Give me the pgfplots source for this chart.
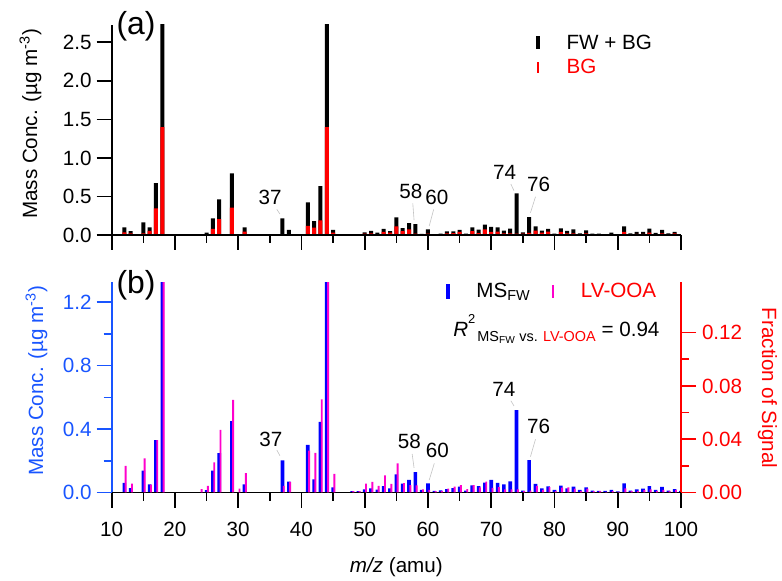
\documentclass[border=0pt]{standalone}
\usepackage{fontspec}
\setmainfont{Liberation Sans}
\usepackage{amsmath}
\usepackage{xcolor}
\usepackage{pgfplots}
\pgfplotsset{compat=1.18}
\usepackage{pgfplotstable}

\definecolor{axblue}{RGB}{25,85,255}
\definecolor{barblue}{RGB}{0,0,255}
\definecolor{lvpink}{RGB}{255,0,204}
\definecolor{leadgray}{RGB}{195,195,195}
\newcommand\fs{\fontsize{20.7}{24.8}\selectfont}
\newcommand\fsbig{\fontsize{32}{38}\selectfont}

% m/z, FW+BG, BG, MS_FW (ug/m3), LV-OOA (fraction of signal)
\pgfplotstableread{
mz  total  bg     fw     lv
12  0.100  0.035  0.060  0.0199
13  0.050  0.020  0.028  0.0066
15  0.165  0.020  0.138  0.0257
16  0.100  0.055  0.051  0.0060
17  0.673  0.345  0.331  0.0394
18  2.950  1.400  1.550  0.1750
24  0.000  0.000  0.000  0.0026
25  0.030  0.010  0.015  0.0050
26  0.216  0.078  0.138  0.0227
27  0.462  0.207  0.249  0.0470
29  0.800  0.354  0.451  0.0695
30  0.000  0.000  0.000  0.0030
31  0.100  0.043  0.051  0.0146
37  0.216  0.010  0.203  0.0050
38  0.065  0.003  0.068  0.0080
41  0.423  0.117  0.300  0.0314
42  0.180  0.095  0.083  0.0297
43  0.635  0.190  0.445  0.0700
44  2.950  1.400  1.550  0.1900
45  0.065  0.030  0.033  0.0139
48  0.010  0.002  0.008  0.0010
49  0.010  0.002  0.008  0.0010
50  0.035  0.017  0.020  0.0066
51  0.052  0.020  0.026  0.0079
52  0.030  0.012  0.018  0.0049
53  0.078  0.040  0.041  0.0129
54  0.050  0.030  0.026  0.0064
55  0.229  0.112  0.115  0.0219
56  0.090  0.050  0.056  0.0071
57  0.155  0.073  0.079  0.0056
58  0.142  0.017  0.129  0.0054
59  0.013  0.003  0.016  0.0024
60  0.073  0.017  0.058  0.0019
61  0.010  0.002  0.010  0.0010
62  0.017  0.005  0.014  0.0010
63  0.047  0.020  0.022  0.0030
64  0.047  0.025  0.028  0.0044
65  0.065  0.040  0.037  0.0056
66  0.017  0.008  0.012  0.0026
67  0.100  0.050  0.045  0.0056
68  0.070  0.025  0.041  0.0039
69  0.134  0.073  0.062  0.0081
70  0.104  0.040  0.079  0.0034
71  0.100  0.043  0.060  0.0041
72  0.056  0.020  0.052  0.0024
73  0.082  0.020  0.070  0.0024
74  0.540  0.017  0.520  0.0024
75  0.035  0.017  0.012  0.0010
76  0.233  0.026  0.205  0.0014
77  0.112  0.056  0.054  0.0049
78  0.056  0.030  0.026  0.0019
79  0.078  0.043  0.039  0.0041
80  0.017  0.008  0.016  0.0010
81  0.086  0.040  0.043  0.0036
82  0.052  0.020  0.026  0.0039
83  0.073  0.020  0.037  0.0029
84  0.020  0.008  0.016  0.0010
85  0.060  0.020  0.033  0.0029
86  0.017  0.008  0.012  0.0010
87  0.017  0.008  0.010  0.0010
88  0.005  0.002  0.010  0.0005
89  0.030  0.012  0.016  0.0010
90  0.005  0.002  0.007  0.0005
91  0.112  0.040  0.058  0.0031
92  0.020  0.008  0.012  0.0010
93  0.040  0.015  0.020  0.0010
94  0.040  0.015  0.024  0.0019
95  0.082  0.030  0.041  0.0024
96  0.026  0.010  0.016  0.0010
97  0.065  0.020  0.035  0.0020
98  0.020  0.008  0.012  0.0010
99  0.040  0.020  0.022  0.0020
100 0.010  0.004  0.010  0.0005
}\spectra

\pgfplotsset{
  msaxis/.style={
    scale only axis, width=569.3bp, height=210bp,
    xmin=10, xmax=100, xtick={10,20,...,100}, minor x tick num=1,
    tick align=outside, major tick length=15bp, minor tick length=8bp,
    every tick/.style={line width=1.6bp},
    axis line style={line width=1.6bp},
    tick label style={font=\fs},
    xticklabel style={yshift=-11bp},
    /pgf/number format/assume math mode=true,
    axis on top,
  },
  onedec/.style={/pgf/number format/fixed, /pgf/number format/fixed zerofill,
    /pgf/number format/precision=#1},
}

\begin{document}
\begin{tikzpicture}[font=\fs]
\path[use as bounding box] (0,0) rectangle (782bp,581bp);

% ---------- (a) ----------
\begin{axis}[msaxis, at={(111.7bp,346bp)}, anchor=south west,
    axis x line*=bottom, axis y line*=left,
    ymin=0, ymax=2.724, ytick={0,0.5,1,1.5,2,2.5},
    xticklabel={\relax}, yticklabel style={onedec=1, xshift=-1.7bp},
    legend cell align=left,
    legend style={at={(0.745,0.955)}, anchor=north west, draw=none, fill=none,
      inner sep=0pt, row sep=9bp, nodes={inner sep=0pt},
      /tikz/every odd column/.append style={column sep=26.5bp}},
  ]
  \addplot[ybar, bar width=4bp, bar shift=0pt, fill=black, draw=none,
    legend image code/.code={\fill[black] (0bp,-6.5bp) rectangle (4bp,6.5bp);}]
    table[x=mz, y=total] {\spectra};
  \addlegendentry{FW + BG}
  \addplot[ybar, bar width=4bp, bar shift=0pt, fill=red, draw=none,
    legend image code/.code={\fill[red] (0.7bp,-5.5bp) rectangle (3.3bp,5.5bp);}]
    table[x=mz, y=bg] {\spectra};
  \addlegendentry{\textcolor{red}{BG}}

  \node at (axis cs:35.05,0.492) {37};
  \node at (axis cs:57.3,0.561) {58};
  \node at (axis cs:61.4,0.487) {60};
  \node at (axis cs:72.1,0.812) {74};
  \node at (axis cs:77.5,0.661) {76};
  \draw[leadgray, line width=0.6bp] (axis cs:36.1,0.333) -- (axis cs:36.6,0.272);
  \draw[leadgray, line width=0.6bp] (axis cs:57.6,0.409) -- (axis cs:57.8,0.194);
  \draw[leadgray, line width=0.6bp] (axis cs:60.9,0.332) -- (axis cs:60.2,0.117);
  \draw[leadgray, line width=0.6bp] (axis cs:73.1,0.661) -- (axis cs:73.6,0.574);
  \draw[leadgray, line width=0.6bp] (axis cs:77.0,0.496) -- (axis cs:76.2,0.289);
\end{axis}

% ---------- (b): MS_FW bars and m/z axis ----------
\begin{axis}[msaxis, at={(111.7bp,88.5bp)}, anchor=south west, height=210.2bp,
    axis x line*=bottom, axis y line=none,
    ymin=0, ymax=1.326,
    xlabel={\textit{m/z} (amu)},
    every axis x label/.style={at={(axis description cs:0.5,0)}, anchor=base, yshift=-80.2bp},
  ]
  \addplot[ybar, bar width=3.6bp, bar shift=0pt, fill=barblue, draw=none]
    table[x=mz, y=fw] {\spectra};

  \node at (axis cs:35.16,0.3375) {37};
  \node at (axis cs:57.04,0.320) {58};
  \node at (axis cs:61.5,0.264) {60};
  \node at (axis cs:72.0,0.653) {74};
  \node at (axis cs:77.5,0.415) {76};
  \draw[leadgray, line width=0.6bp] (axis cs:36.1,0.268) -- (axis cs:36.6,0.232);
  \draw[leadgray, line width=0.6bp] (axis cs:57.5,0.243) -- (axis cs:57.8,0.155);
  \draw[leadgray, line width=0.6bp] (axis cs:61.0,0.184) -- (axis cs:60.2,0.079);
  \draw[leadgray, line width=0.6bp] (axis cs:73.1,0.579) -- (axis cs:73.6,0.546);
  \draw[leadgray, line width=0.6bp] (axis cs:77.0,0.336) -- (axis cs:76.2,0.226);
\end{axis}

% left (blue) axis
\begin{axis}[msaxis, at={(111.7bp,88.5bp)}, anchor=south west, height=210.2bp,
    axis x line=none, axis y line*=left,
    ymin=0, ymax=1.326, ytick={0,0.4,0.8,1.2}, minor y tick num=1,
    axis line style={line width=1.6bp, axblue},
    tick style={axblue}, yticklabel style={onedec=1, text=axblue, xshift=-1.7bp},
  ]
\end{axis}

% right (red) axis with LV-OOA
\begin{axis}[msaxis, at={(111.7bp,88.5bp)}, anchor=south west, height=210.2bp,
    axis x line=none, axis y line*=right,
    ymin=0, ymax=0.1578, ytick={0,0.04,0.08,0.12}, minor y tick num=1,
    axis line style={line width=1.6bp, red},
    tick style={red}, yticklabel style={onedec=2, text=red, xshift=2.5bp},
    legend columns=2, legend cell align=left,
    legend style={at={(0.587,0.997)}, anchor=north west, draw=none, fill=none,
      inner sep=0pt, nodes={inner sep=0pt},
      /tikz/every odd column/.append style={column sep=26.6bp},
      /tikz/every even column/.append style={column sep=22bp}},
  ]
  \addlegendimage{legend image code/.code={\fill[barblue] (0bp,-7bp) rectangle (3.4bp,7bp);}}
  \addlegendentry{MS\textsubscript{FW}}
  \addplot[ybar, bar width=1.9bp, bar shift=1.3bp, fill=lvpink, draw=none,
    legend image code/.code={\fill[lvpink] (0bp,-6.5bp) rectangle (2bp,6.5bp);}]
    table[x=mz, y=lv] {\spectra};
  \addlegendentry{\textcolor{red}{LV-OOA}}
\end{axis}

% panel letters, axis titles, R^2 note
\node[anchor=base west, font=\fsbig] at (113bp,546bp) {(a)};
\node[anchor=base west, font=\fsbig] at (113bp,287.7bp) {(b)};
\node[rotate=90, anchor=base] at (37bp,457bp) {Mass Conc. (µg m\textsuperscript{-3})};
\node[rotate=90, anchor=base, text=axblue] at (43bp,200bp) {Mass Conc. (µg m\textsuperscript{-3})};
\node[rotate=-90, anchor=base, text=red] at (762bp,193bp) {Fraction of Signal};
\node[anchor=base east] at (663bp,244.3bp)
  {\textit{R}\raisebox{13.4bp}{\fontsize{13}{13}\selectfont 2}\hspace{2bp}%
   \raisebox{-5bp}{\fontsize{14.5}{15}\selectfont MS\textsubscript{FW} vs. \textcolor{red}{LV-OOA}} = 0.94};
\end{tikzpicture}
\end{document}
